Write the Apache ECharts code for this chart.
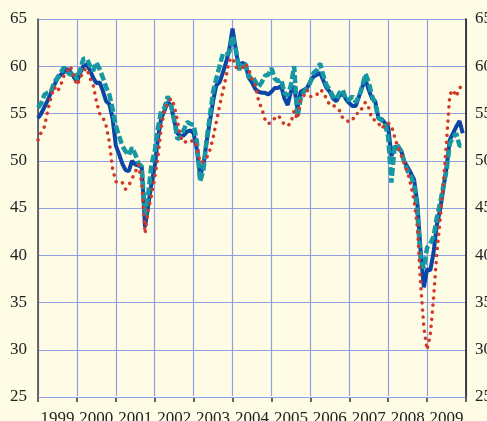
<!DOCTYPE html>
<html>
<head>
<meta charset="utf-8">
<script src="https://cdn.jsdelivr.net/npm/echarts@6/dist/echarts.min.js"></script>
<style>
  html, body { margin: 0; padding: 0; background: #fffce6; }
  #chart { width: 487px; height: 421px; }
</style>
</head>
<body>
<div id="chart"></div>
<script>
// monthly values, Jan 1999 .. Dec 2009
const startYear = 1999
const years = ['1999', '2000', '2001', '2002', '2003', '2004', '2005', '2006', '2007', '2008', '2009']
const yTicks = [25, 30, 35, 40, 45, 50, 55, 60, 65]

const blueVals = [
  54.5, 55.0, 55.7, 56.4, 57.2, 58.0, 58.7, 59.1, 59.4, 59.7, 59.4, 58.9,
  58.3, 59.3, 60.0, 60.2, 59.6, 58.8, 58.2, 58.3, 57.4, 56.3, 56.0, 54.5,
  51.6, 50.7, 49.7, 49.0, 48.9, 50.0, 49.6, 49.5, 49.3, 43.0, 45.3, 47.6,
  49.4, 52.4, 54.5, 55.3, 56.2, 55.9, 54.2, 52.9, 52.6, 52.7, 53.1, 53.2,
  52.9, 51.2, 48.4, 49.5, 52.0, 54.1, 56.3, 58.0, 58.3, 59.3, 60.4, 61.8,
  64.0, 61.8, 59.7, 60.4, 60.1, 58.8, 58.3, 57.6, 57.3, 57.2, 57.2, 57.0,
  57.3, 57.7, 57.7, 57.9, 56.6, 55.9, 57.3, 57.9, 55.5, 57.3, 57.5, 57.7,
  58.4, 58.9, 59.1, 59.3, 58.5, 57.7, 57.3, 56.6, 56.3, 56.9, 57.1, 56.5,
  56.1, 55.8, 55.8, 56.8, 57.8, 58.6, 57.5, 56.6, 56.3, 54.5, 54.4, 54.0,
  53.6, 50.5, 51.5, 51.3, 51.1, 49.9, 49.3, 48.7, 48.0, 45.5, 40.5, 36.6,
  38.5, 38.4, 40.3, 43.2, 44.8, 47.0, 49.3, 52.2, 52.9, 53.6, 54.2, 52.9
]

const tealVals = [
  55.6, 56.1, 57.0, 57.2, 57.3, 58.3, 58.8, 59.3, 59.9, 59.4, 59.1, 59.4,
  58.6, 59.6, 60.8, 60.8, 60.1, 59.5, 60.4, 59.7, 58.8, 57.8, 57.0, 55.5,
  53.7, 52.6, 51.6, 51.0, 50.6, 51.4, 50.7, 49.7, 49.4, 44.2, 46.5, 49.6,
  51.0, 53.5, 55.3, 55.6, 56.8, 56.0, 54.3, 52.3, 52.5, 53.3, 54.1, 53.9,
  53.8, 52.0, 47.8, 49.0, 52.2, 54.7, 57.3, 58.7, 60.0, 61.3, 61.2, 61.5,
  63.2, 61.8, 59.6, 60.4, 60.2, 58.8, 59.0, 58.4, 57.8, 58.3, 59.0, 59.1,
  59.8, 58.7, 58.4, 58.6, 57.2, 56.9, 58.0, 60.0, 54.6, 56.6, 57.3, 57.7,
  58.3, 59.3, 59.6, 60.3, 59.0, 58.0, 57.5, 56.8, 56.5, 57.2, 57.5, 56.4,
  56.5, 56.8, 56.2, 56.8, 57.9, 59.2, 58.3, 56.9, 56.0, 54.5, 54.3, 54.0,
  52.5, 47.7, 51.6, 51.6, 51.0, 49.8, 48.9, 48.4, 47.5, 44.5, 39.6, 38.6,
  40.8, 41.2, 42.0, 44.0, 45.5, 47.3, 49.0, 51.8, 52.5, 52.9, 51.6, 51.6
]

const redVals = [
  52.2, 53.0, 53.6, 55.3, 56.7, 57.8, 57.3, 58.0, 59.0, 59.5, 60.0, 59.0,
  58.0, 58.7, 59.5, 59.8, 58.8, 58.0, 56.3, 55.0, 54.6, 53.7, 52.0, 49.2,
  47.8, 47.6, 47.7, 47.0, 47.4, 48.1, 48.8, 49.6, 47.6, 42.3, 44.8, 46.3,
  48.2, 50.4, 53.5, 55.3, 56.0, 56.6, 55.9, 54.2, 52.5, 51.9, 52.1, 52.0,
  52.2, 51.5, 49.8, 49.9, 50.3, 51.1, 52.4, 54.1, 55.8, 57.3, 58.9, 60.6,
  60.9, 59.9, 59.8, 59.8, 60.3, 59.7, 58.6, 58.0, 56.4, 55.5, 54.4, 53.9,
  54.1, 54.5, 54.8, 54.4, 53.8, 53.7, 54.0, 55.3, 54.4, 56.5, 56.9, 57.5,
  56.8, 56.8, 57.0, 57.5, 57.3, 56.5, 55.9, 55.9, 55.6, 55.3, 54.5, 54.3,
  54.1, 54.3, 55.0, 55.0, 55.6, 56.2, 55.6, 54.4, 54.3, 54.0, 53.4, 53.8,
  54.0, 53.7, 52.5, 51.4, 50.6, 49.7, 48.8, 47.4, 45.8, 43.0, 37.0, 32.4,
  30.0, 31.6, 35.5, 40.2, 43.7, 47.5, 52.0, 57.0, 57.5, 56.8, 57.7, 58.0
]

function toPoints(vals) {
  return vals.map((v, i) => [startYear + i / 12, v])
}

const labelFont = { fontFamily: 'Liberation Serif', fontSize: 17, color: '#222' }
const gridColor = '#8fa0e0'

let myChart = echarts.init(document.getElementById('chart'))
myChart.setOption({
  animation: false,
  backgroundColor: '#fffce6',
  grid: { left: 38, right: 21, top: 19, bottom: 24, containLabel: false, outerBoundsMode: 'none' },
  xAxis: [
    {
      type: 'value',
      position: 'bottom',
      min: 1999,
      max: 2010,
      interval: 1,
      axisLabel: { show: false },
      axisLine: { show: true, lineStyle: { color: '#ffffff', width: 2 } },
      axisTick: { show: true, length: 5, lineStyle: { color: '#333', width: 1.5 } },
      splitLine: { show: true, lineStyle: { color: gridColor, width: 1.2 } }
    },
    {
      type: 'category',
      position: 'bottom',
      data: years,
      boundaryGap: true,
      axisLine: { show: false },
      axisTick: { show: false },
      splitLine: { show: false },
      axisLabel: Object.assign({ margin: 13, interval: 0 }, labelFont)
    }
  ],
  yAxis: [
    {
      type: 'value',
      position: 'left',
      z: 3,
      min: yTicks[0],
      max: yTicks[yTicks.length - 1],
      interval: 5,
      axisLine: { show: true, lineStyle: { color: '#444', width: 1.5 } },
      axisTick: { show: false },
      axisLabel: Object.assign({ margin: 11 }, labelFont),
      splitLine: { show: true, lineStyle: { color: gridColor, width: 1.2 } }
    },
    {
      type: 'value',
      position: 'right',
      z: 3,
      min: yTicks[0],
      max: yTicks[yTicks.length - 1],
      interval: 5,
      axisLine: { show: true, lineStyle: { color: '#111', width: 1.5 } },
      axisTick: { show: false },
      axisLabel: Object.assign({ margin: 9 }, labelFont),
      splitLine: { show: false }
    }
  ],
  series: [
    {
      type: 'line',
      data: toPoints(blueVals),
      symbol: 'none',
      lineStyle: { color: '#0b46a6', width: 4 }
    },
    {
      type: 'line',
      data: toPoints(tealVals),
      symbol: 'none',
      lineStyle: { color: '#1597a4', width: 4.5, type: [8, 3] }
    },
    {
      type: 'line',
      data: toPoints(redVals),
      symbol: 'none',
      lineStyle: { color: '#d2392b', width: 3.5, type: [0.1, 7], cap: 'round' }
    }
  ]
})
</script>
</body>
</html>
